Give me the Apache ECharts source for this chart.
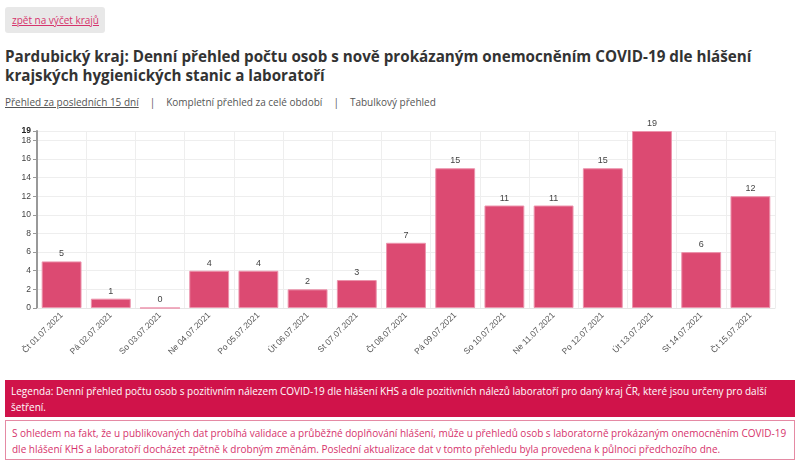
<!DOCTYPE html>
<html><head><meta charset="utf-8">
<script src="https://cdn.jsdelivr.net/npm/echarts@6/dist/echarts.min.js"></script>
<style>
html,body{margin:0;padding:0;background:#fff;font-family:"Open Sans",sans-serif;}
#wrap{position:relative;width:800px;height:469px;overflow:hidden;}
#btn{position:absolute;left:5px;top:7px;width:100px;height:26px;background:#e8e8e8;border-radius:3px;}
#btn a{position:absolute;left:7px;top:6px;font-size:10px;color:#d6336c;text-decoration:underline;white-space:nowrap;}
#title{position:absolute;left:5px;top:47px;width:790px;font-size:15.2px;font-weight:bold;color:#333;line-height:19px;}
#nav{position:absolute;left:5px;top:95px;font-size:10px;color:#555;white-space:nowrap;}
#nav span.u{text-decoration:underline;color:#555;}
#nav span.sep{margin:0 11px;}
#chart{position:absolute;left:0;top:120px;width:800px;height:255px;}
#leg{position:absolute;left:5px;top:380px;width:778px;height:34px;background:#d0134a;color:#fff;font-size:10px;line-height:16px;padding:3px 6px 0 6px;}
#note{position:absolute;left:5px;top:420px;width:776px;height:34px;border:1px solid #e58aa4;color:#d6336c;font-size:10px;line-height:16px;padding:4px 6px 0 6px;}
</style></head><body>
<div id="wrap">
<div id="btn"><a>zpět na výčet krajů</a></div>
<div id="title">Pardubický kraj: Denní přehled počtu osob s nově prokázaným onemocněním COVID-19 dle hlášení krajských hygienických stanic a laboratoří</div>
<div id="nav"><span class="u">Přehled za posledních 15 dní</span><span class="sep">|</span>Kompletní přehled za celé období<span class="sep">|</span>Tabulkový přehled</div>
<div id="chart"></div>
<div id="leg">Legenda: Denní přehled počtu osob s pozitivním nálezem COVID-19 dle hlášení KHS a dle pozitivních nálezů laboratoří pro daný kraj ČR, které jsou určeny pro další šetření.</div>
<div id="note">S ohledem na fakt, že u publikovaných dat probíhá validace a průběžné doplňování hlášení, může u přehledů osob s laboratorně prokázaným onemocněním COVID-19 dle hlášení KHS a laboratoří docházet zpětně k drobným změnám. Poslední aktualizace dat v tomto přehledu byla provedena k půlnoci předchozího dne.</div>
</div>
<script>
const categories = ["Čt 01.07.2021","Pá 02.07.2021","So 03.07.2021","Ne 04.07.2021","Po 05.07.2021","Út 06.07.2021","St 07.07.2021","Čt 08.07.2021","Pá 09.07.2021","So 10.07.2021","Ne 11.07.2021","Po 12.07.2021","Út 13.07.2021","St 14.07.2021","Čt 15.07.2021"];
const values = [5,1,0,4,4,2,3,7,15,11,11,15,19,6,12];
const yMax = 19;

const chart = echarts.init(document.getElementById('chart'));
chart.setOption({
  animation:false,
  grid:{left:37,right:25,top:11,bottom:67},
  xAxis:{type:'category',data:categories,
    axisLine:{lineStyle:{color:'#e6e6e6'}},
    axisTick:{show:false},
    splitLine:{show:true,lineStyle:{color:'#eeeeee'}},
    axisLabel:{rotate:45,fontSize:8.5,color:'#555',fontFamily:'Liberation Sans',margin:6,interval:0}
  },
  yAxis:{type:'value',min:0,max:yMax,interval:2,
    axisLine:{show:true,lineStyle:{color:'#999',width:2}},
    axisTick:{show:true,length:4,lineStyle:{color:'#999'}},
    splitLine:{lineStyle:{color:'#eeeeee'}},
    axisLabel:{fontSize:8.5,color:'#444',fontFamily:'Liberation Sans',margin:6,
      formatter:function(v){return v===yMax?'{b|'+v+'}':String(v);},
      rich:{b:{fontWeight:'bold',fontSize:8.5,color:'#222',fontFamily:'Liberation Sans'}}}
  },
  series:[{type:'bar',data:values,barWidth:'81%',
    itemStyle:{color:'#dc4a72',borderColor:'#ec93ac',borderWidth:1},
    label:{show:true,position:'top',fontSize:9,color:'#444',fontFamily:'Liberation Sans',distance:3}
  }]
});
</script>
</body></html>
